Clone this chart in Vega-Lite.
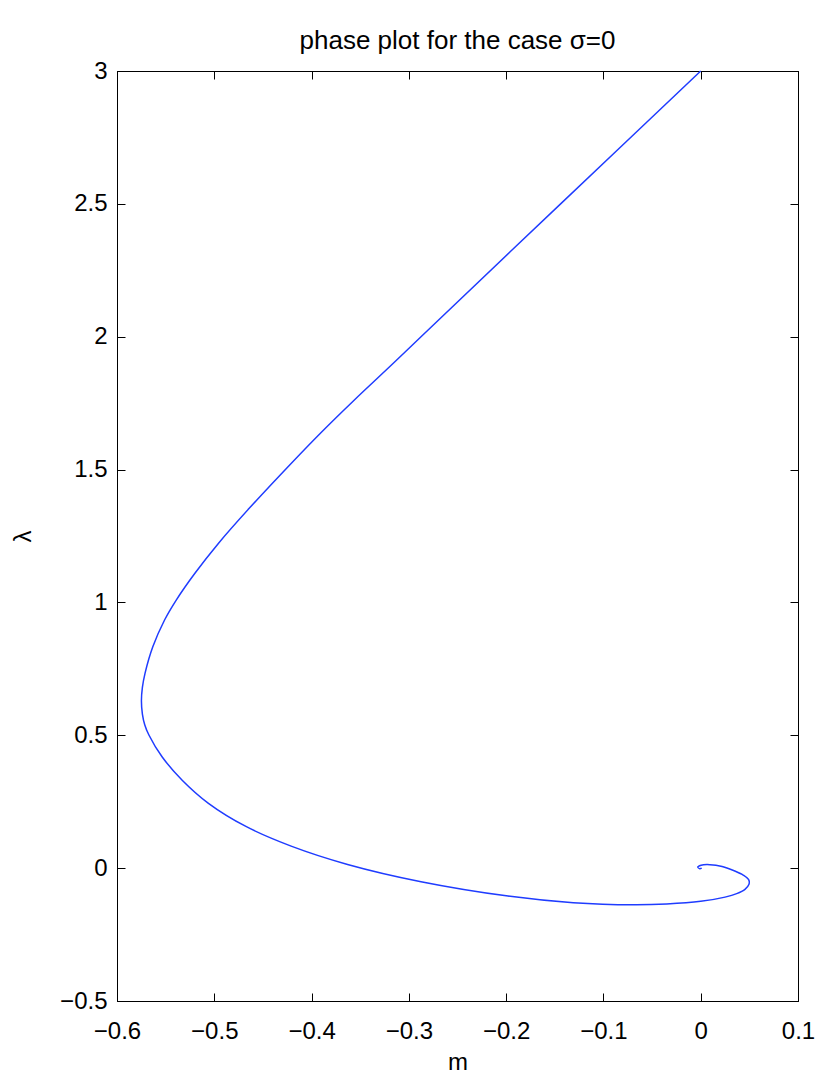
{
  "$schema": "https://vega.github.io/schema/vega-lite/v6.json",
  "width": 681,
  "height": 930,
  "autosize": "none",
  "padding": {"left": 117, "top": 71, "right": 32, "bottom": 83},
  "background": "white",
  "title": {"text": "phase plot for the case σ=0", "font": "Liberation Sans", "fontSize": 26, "fontWeight": "normal", "color": "black", "baseline": "bottom", "offset": -21},
  "config": {
    "view": {"stroke": "black", "strokeWidth": 1},
    "axis": {
      "grid": false,
      "domainColor": "black",
      "tickColor": "black",
      "tickSize": -8,
      "labelFont": "Liberation Sans",
      "labelFontSize": 24,
      "labelColor": "black",
      "titleFont": "Liberation Sans",
      "titleFontSize": 24,
      "titleFontWeight": "normal",
      "titleColor": "black",
      "format": "~g",
      "labelFlush": false,
      "labelOverlap": false
    }
  },
  "data": {"values": [
    {"t": 1, "m": 0.0, "lambda": 3.0},
    {"t": 2, "m": -0.144, "lambda": 2.5},
    {"t": 3, "m": -0.2875, "lambda": 2.0},
    {"t": 4, "m": -0.316, "lambda": 1.9},
    {"t": 5, "m": -0.356, "lambda": 1.762},
    {"t": 6, "m": -0.3876, "lambda": 1.649},
    {"t": 7, "m": -0.421, "lambda": 1.523},
    {"t": 8, "m": -0.4641, "lambda": 1.354},
    {"t": 9, "m": -0.4958, "lambda": 1.222},
    {"t": 10, "m": -0.5201, "lambda": 1.109},
    {"t": 11, "m": -0.5391, "lambda": 1.009},
    {"t": 12, "m": -0.5511, "lambda": 0.934},
    {"t": 13, "m": -0.5632, "lambda": 0.833},
    {"t": 14, "m": -0.5712, "lambda": 0.733},
    {"t": 15, "m": -0.5739, "lambda": 0.68},
    {"t": 16, "m": -0.5749, "lambda": 0.63},
    {"t": 17, "m": -0.5739, "lambda": 0.58},
    {"t": 18, "m": -0.5715, "lambda": 0.54},
    {"t": 19, "m": -0.5672, "lambda": 0.501},
    {"t": 20, "m": -0.5537, "lambda": 0.419},
    {"t": 21, "m": -0.533, "lambda": 0.331},
    {"t": 22, "m": -0.506, "lambda": 0.244},
    {"t": 23, "m": -0.467, "lambda": 0.156},
    {"t": 24, "m": -0.421, "lambda": 0.083},
    {"t": 25, "m": -0.363, "lambda": 0.014},
    {"t": 26, "m": -0.2875, "lambda": -0.051},
    {"t": 27, "m": -0.198, "lambda": -0.105},
    {"t": 28, "m": -0.131, "lambda": -0.13},
    {"t": 29, "m": -0.069, "lambda": -0.138},
    {"t": 30, "m": -0.035, "lambda": -0.135},
    {"t": 31, "m": 0.0, "lambda": -0.125},
    {"t": 32, "m": 0.025, "lambda": -0.109},
    {"t": 33, "m": 0.037, "lambda": -0.096},
    {"t": 34, "m": 0.0455, "lambda": -0.08},
    {"t": 35, "m": 0.0495, "lambda": -0.062},
    {"t": 36, "m": 0.0495, "lambda": -0.045},
    {"t": 37, "m": 0.044, "lambda": -0.027},
    {"t": 38, "m": 0.035, "lambda": -0.011},
    {"t": 39, "m": 0.022, "lambda": 0.006},
    {"t": 40, "m": 0.0095, "lambda": 0.013},
    {"t": 41, "m": 0.0004, "lambda": 0.011},
    {"t": 42, "m": -0.003, "lambda": 0.004},
    {"t": 43, "m": -0.001, "lambda": -0.002},
    {"t": 44, "m": 0.001, "lambda": 0.0}
  ]},
  "layer": [
    {
      "mark": {"type": "line", "color": "#1f3cff", "strokeWidth": 1.5, "interpolate": "catmull-rom"},
      "encoding": {
        "x": {"field": "m", "type": "quantitative", "scale": {"domain": [-0.6, 0.1], "nice": false, "zero": false},
              "axis": {"orient": "bottom", "title": "m", "values": [-0.6, -0.5, -0.4, -0.3, -0.2, -0.1, 0, 0.1], "labelPadding": 26, "titlePadding": 7}},
        "y": {"field": "lambda", "type": "quantitative", "scale": {"domain": [-0.5, 3], "nice": false, "zero": false},
              "axis": {"orient": "left", "title": "λ", "values": [-0.5, 0, 0.5, 1, 1.5, 2, 2.5, 3], "labelPadding": 18, "titlePadding": 24}},
        "order": {"field": "t", "type": "quantitative"}
      }
    },
    {
      "mark": {"type": "line", "opacity": 0},
      "encoding": {
        "x": {"field": "m", "type": "quantitative",
              "axis": {"orient": "top", "title": null, "labels": false, "values": [-0.6, -0.5, -0.4, -0.3, -0.2, -0.1, 0, 0.1]}},
        "y": {"field": "lambda", "type": "quantitative",
              "axis": {"orient": "right", "title": null, "labels": false, "values": [-0.5, 0, 0.5, 1, 1.5, 2, 2.5, 3]}},
        "order": {"field": "t", "type": "quantitative"}
      }
    }
  ],
  "resolve": {"axis": {"x": "independent", "y": "independent"}}
}
